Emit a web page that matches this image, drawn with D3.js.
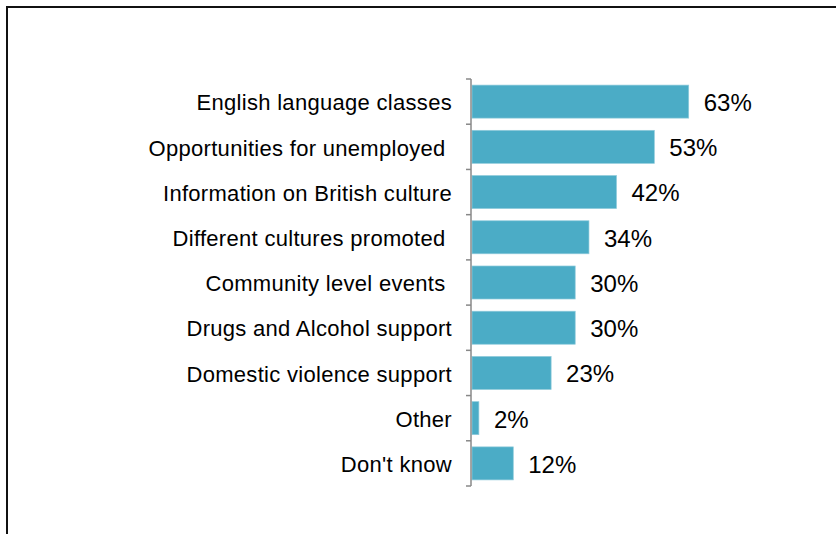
<!DOCTYPE html>
<html><head><meta charset="utf-8">
<script src="https://cdn.jsdelivr.net/npm/d3@7"></script>
<style>body{margin:0;background:#fff;}svg{display:block;}</style>
</head><body>
<script>
const categories = ["English language classes","Opportunities for unemployed ","Information on British culture","Different cultures promoted ","Community level events ","Drugs and Alcohol support","Domestic violence support","Other","Don't know"];
const values = [63,53,42,34,30,30,23,2,12];

const W=836,H=534;
const svg=d3.select("body").append("svg").attr("width",W).attr("height",H);
svg.append("rect").attr("x",7).attr("y",7).attr("width",W+10).attr("height",H+10)
  .attr("fill","none").attr("stroke","#111").attr("stroke-width",2);

const x=d3.scaleLinear().domain([0,100]).range([472,816]);
const y=d3.scaleBand().domain(categories).range([79,486]).paddingInner(0.27).paddingOuter(0.135);

svg.selectAll("rect.bar").data(values).join("rect").attr("class","bar")
  .attr("x",x(0)).attr("y",(d,i)=>y(categories[i]))
  .attr("width",d=>x(d)-x(0)).attr("height",y.bandwidth())
  .attr("fill","#4BACC6").attr("stroke","#8FCBDB").attr("stroke-width",0.7);

const axisG=svg.append("g");
axisG.append("line").attr("x1",471).attr("x2",471).attr("y1",79).attr("y2",486).attr("stroke","#888").attr("stroke-width",1.5);
const step=(486-79)/categories.length;
const tickYs=d3.range(categories.length+1).map(i=>79+i*step);
axisG.selectAll("line.t").data(tickYs).join("line").attr("class","t")
  .attr("x1",466).attr("x2",471).attr("y1",d=>d).attr("y2",d=>d).attr("stroke","#888").attr("stroke-width",1.5);

svg.selectAll("text.cat").data(categories).join("text").attr("class","cat")
  .attr("x",452).attr("y",d=>y(d)+y.bandwidth()/2+1).attr("dy","0.35em")
  .attr("text-anchor","end").style("white-space","pre").style("letter-spacing","0.3px")
  .attr("font-family","Liberation Sans, Arial, sans-serif").attr("font-size",22).attr("fill","#000")
  .text(d=>d);

svg.selectAll("text.val").data(values).join("text").attr("class","val")
  .attr("x",d=>x(d)+15).attr("y",(d,i)=>y(categories[i])+y.bandwidth()/2+1).attr("dy","0.35em")
  .attr("font-family","Liberation Sans, Arial, sans-serif").attr("font-size",24).attr("fill","#000")
  .text(d=>d+"%");
</script>
</body></html>
